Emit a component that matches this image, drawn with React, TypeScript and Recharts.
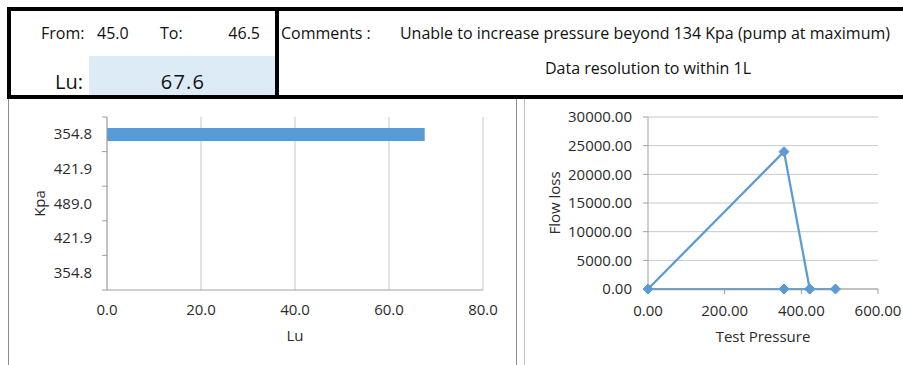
import React from 'react';
import {
  BarChart, Bar, LineChart, Line, XAxis, YAxis, CartesianGrid, Label,
} from 'recharts';

// header cells
const fromValue = '45.0';
const toValue = '46.5';
const luReading = '67.6';
const comments = [
  'Unable to increase pressure beyond 134 Kpa (pump at maximum)',
  'Data resolution to within 1L',
];

// bar chart: Lu per pressure step (top to bottom)
const kpaSteps = ['354.8', '421.9', '489.0', '421.9', '354.8'];
const luValues = [67.6, null, null, null, null];
const luTicks = [0, 20, 40, 60, 80];

// flow loss vs test pressure
const testPressure = [0, 354.8, 421.9, 489.0, 421.9, 354.8, 0];
const flowLoss = [0, 23958, 0, 0, 0, 0, 0];
const pressureTicks = [0, 200, 400, 600];
const flowTicks = [0, 5000, 10000, 15000, 20000, 25000, 30000];

const FONT = '"Open Sans", sans-serif';
const BLUE = '#5B9BD5';
const GRID = '#c8c8c8';
const AXIS = '#a0a0a0';
const TEXT = '#2b2b2b';

const barData = kpaSteps.map((k, i) => ({ idx: i, kpa: k, lu: luValues[i] }));
const lineData = testPressure.map((p, i) => ({ p, loss: flowLoss[i] }));

// category ticks sit between bands, like the spreadsheet chart
const KpaTick = (props: any) => {
  const { x, y, payload, index } = props;
  const ax = x + 8; // axis line position
  const band = 173 / kpaSteps.length;
  return (
    <g>
      <text x={ax - 15} y={y} dy={5} textAnchor="end" fill={TEXT} fontSize={15} fontFamily={FONT}>
        {kpaSteps[payload.value]}
      </text>
      <line x1={ax - 5} x2={ax} y1={y + band / 2} y2={y + band / 2} stroke={AXIS} />
      {index === 0 && <line x1={ax - 5} x2={ax} y1={y - band / 2} y2={y - band / 2} stroke={AXIS} />}
    </g>
  );
};

const Diamond = (props: any) => {
  const { cx, cy } = props;
  if (cx == null || cy == null) return null;
  const r = 5;
  return (
    <polygon
      points={`${cx},${cy - r} ${cx + r},${cy} ${cx},${cy + r} ${cx - r},${cy}`}
      fill={BLUE}
      stroke={BLUE}
    />
  );
};

const abs = (s: React.CSSProperties): React.CSSProperties => ({ position: 'absolute', ...s });

export default function App() {
  const tick = { fill: TEXT, fontSize: 15, fontFamily: FONT };
  return (
    <div style={abs({ left: 0, top: 0, width: 903, height: 365, background: '#fff', overflow: 'hidden', fontFamily: FONT, color: '#111' })}>
      {/* header block */}
      <div style={abs({ left: 89, top: 56, width: 187, height: 39, background: '#DDEBF7' })} />
      <div style={abs({ left: 7, top: 7, width: 896, height: 4, background: '#000' })} />
      <div style={abs({ left: 7, top: 95, width: 896, height: 4, background: '#000' })} />
      <div style={abs({ left: 7, top: 7, width: 4, height: 92, background: '#000' })} />
      <div style={abs({ left: 275, top: 7, width: 4, height: 92, background: '#000' })} />

      <div style={abs({ left: 41, top: 22, fontSize: 16, lineHeight: '22px' })}>From:</div>
      <div style={abs({ left: 97, top: 22, fontSize: 16, lineHeight: '22px' })}>{fromValue}</div>
      <div style={abs({ left: 160, top: 22, fontSize: 16, lineHeight: '22px' })}>To:</div>
      <div style={abs({ left: 200, top: 22, width: 60, textAlign: 'right', fontSize: 16, lineHeight: '22px' })}>{toValue}</div>
      <div style={abs({ left: 55, top: 70, fontSize: 20, lineHeight: '24px' })}>Lu:</div>
      <div style={abs({ left: 130, top: 70, width: 106, textAlign: 'center', fontSize: 20, lineHeight: '24px', letterSpacing: 1.2 })}>{luReading}</div>

      <div style={abs({ left: 281, top: 22, fontSize: 16, lineHeight: '22px' })}>Comments :</div>
      <div style={abs({ left: 390, top: 22, width: 500, textAlign: 'right', fontSize: 16, lineHeight: '22px' })}>{comments[0]}</div>
      <div style={abs({ left: 398, top: 57, width: 500, textAlign: 'center', fontSize: 16, lineHeight: '22px' })}>{comments[1]}</div>

      {/* sheet frame lines */}
      <div style={abs({ left: 8, top: 99, width: 1, height: 266, background: '#8c8c8c' })} />
      <div style={abs({ left: 516, top: 99, width: 1, height: 266, background: '#8c8c8c' })} />
      <div style={abs({ left: 524, top: 99, width: 1, height: 266, background: '#bdbdbd' })} />

      {/* Lu bar chart */}
      <div style={abs({ left: 9, top: 99 })}>
        <BarChart
          width={507}
          height={266}
          data={barData}
          layout="vertical"
          margin={{ top: 18, right: 33, bottom: 45, left: 0 }}
        >
          <CartesianGrid horizontal={false} stroke={GRID} />
          <XAxis
            type="number"
            domain={[0, 80]}
            ticks={luTicks}
            tickFormatter={(v: number) => v.toFixed(1)}
            tick={tick}
            tickLine={false}
            tickMargin={8}
            stroke={AXIS}
            height={30}
          >
            <Label value="Lu" position="bottom" offset={10} style={{ fill: TEXT, fontSize: 15, fontFamily: FONT }} />
          </XAxis>
          <YAxis
            type="category"
            dataKey="idx"
            width={98}
            tick={<KpaTick />}
            tickLine={false}
            stroke={AXIS}
          >
            <Label value="Kpa" angle={-90} position="insideLeft" offset={31} style={{ textAnchor: 'middle', fill: TEXT, fontSize: 15, fontFamily: FONT }} />
          </YAxis>
          <Bar dataKey="lu" fill={BLUE} barSize={13} isAnimationActive={false} />
        </BarChart>
      </div>

      {/* flow loss chart */}
      <div style={abs({ left: 525, top: 99 })}>
        <LineChart
          width={378}
          height={266}
          data={lineData}
          margin={{ top: 18, right: 25, bottom: 46, left: 0 }}
        >
          <CartesianGrid vertical={false} stroke={GRID} />
          <XAxis
            type="number"
            dataKey="p"
            domain={[0, 600]}
            ticks={pressureTicks}
            tickFormatter={(v: number) => v.toFixed(2)}
            tick={tick}
            tickSize={5}
            tickMargin={11}
            stroke={AXIS}
            height={30}
          >
            <Label value="Test Pressure" position="bottom" offset={12} style={{ fill: TEXT, fontSize: 15, fontFamily: FONT }} />
          </XAxis>
          <YAxis
            type="number"
            domain={[0, 30000]}
            ticks={flowTicks}
            tickFormatter={(v: number) => v.toFixed(2)}
            tick={tick}
            tickSize={5}
            tickMargin={11}
            stroke={AXIS}
            width={123}
          >
            <Label value="Flow loss" angle={-90} position="insideLeft" offset={30} style={{ textAnchor: 'middle', fill: TEXT, fontSize: 15, fontFamily: FONT }} />
          </YAxis>
          <Line
            type="linear"
            dataKey="loss"
            stroke={BLUE}
            strokeWidth={2.25}
            dot={<Diamond />}
            activeDot={false}
            isAnimationActive={false}
          />
        </LineChart>
      </div>
    </div>
  );
}
